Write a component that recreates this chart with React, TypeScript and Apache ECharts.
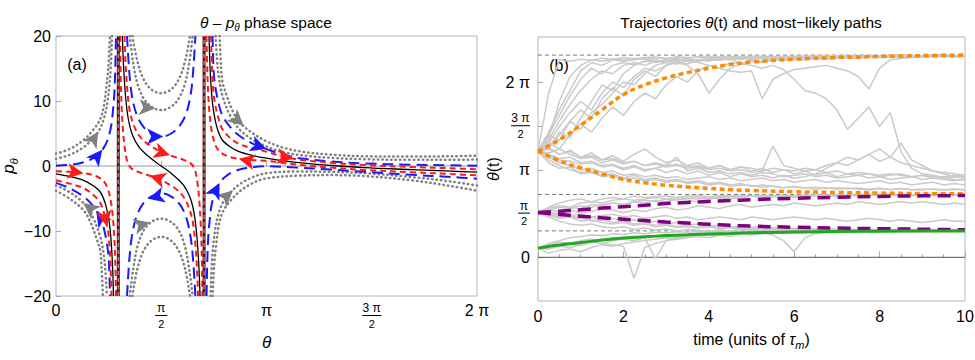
import { useEffect, useRef } from "react";
import * as echarts from "echarts";

const PI = Math.PI;
const TWO_PI = 2 * PI;
const FONT = '"Liberation Sans", Arial, Helvetica, sans-serif';

// ---------- Left panel (a): theta - p_theta phase space ----------
const thetaTickValues = [0, PI / 2, PI, (3 * PI) / 2, 2 * PI];
const thetaTickLabels = ["0", "{n|π}\n{b| }\n{d|2}", "π", "{n3|3 π}\n{b3| }\n{d3|2}", "2 π"];
const separatrixTheta = [0.93, 2.21];

// region left of first separatrix
const grayUpperL1 = [[0, 1.9], [0.2, 2.6], [0.4, 3.9], [0.55, 5.5], [0.65, 7], [0.71, 9], [0.75, 12], [0.78, 15], [0.805, 20]];
const grayUpperL2 = [[0, 1.1], [0.2, 1.7], [0.4, 2.8], [0.55, 4.2], [0.65, 5.6], [0.72, 7.5], [0.77, 10], [0.81, 14], [0.835, 20]];
const blueUpperL = [[0, 0.05], [0.3, 0.3], [0.5, 0.9], [0.62, 1.7], [0.7, 2.6], [0.77, 4], [0.82, 6], [0.85, 8.5], [0.87, 11], [0.885, 15], [0.895, 20]];
const redOuterL = [[0, -0.8], [0.2, -0.9], [0.41, -1.1], [0.55, -1.4], [0.66, -1.9], [0.73, -2.6], [0.78, -3.7], [0.82, -5.5], [0.85, -8], [0.87, -11], [0.885, -15], [0.896, -20]];
const blackL = [[0, -1.2], [0.2, -1.6], [0.41, -2.2], [0.55, -3], [0.66, -4], [0.73, -5.6], [0.78, -7.8], [0.81, -10], [0.835, -13.5], [0.85, -17], [0.858, -20]];
const redInnerL = [[0, -2.2], [0.2, -2.7], [0.41, -3.4], [0.55, -4.4], [0.66, -5.7], [0.73, -7.8], [0.78, -10.3], [0.8, -12.5], [0.815, -15.5], [0.828, -20]];
const blueLowerL = [[0, -2.6], [0.2, -3.4], [0.41, -4.7], [0.55, -6.1], [0.66, -7.8], [0.73, -10.3], [0.78, -13.4], [0.795, -16], [0.806, -20]];
const grayLowerL1 = [[0, -3.0], [0.2, -4.0], [0.41, -5.7], [0.55, -7.9], [0.66, -10.9], [0.71, -13.5], [0.74, -16.5], [0.76, -20]];
const grayLowerL2 = [[0, -3.8], [0.2, -5.0], [0.41, -6.8], [0.52, -8.8], [0.6, -11], [0.657, -12.9], [0.68, -15.5], [0.7, -20]];

// middle region
const blueUpperM = [[1.06, 20], [1.09, 15], [1.13, 11], [1.2, 8], [1.3, 6.1], [1.42, 5.0], [1.57, 4.5], [1.72, 5.0], [1.84, 6.1], [1.94, 8], [2.01, 11], [2.05, 15], [2.08, 20]];
const grayUpperM1 = [[1.1, 20], [1.15, 16], [1.22, 12.5], [1.32, 10.2], [1.44, 9.0], [1.57, 8.6], [1.7, 9.0], [1.82, 10.2], [1.92, 12.5], [1.99, 16], [2.04, 20]];
const grayUpperM2 = [[1.14, 20], [1.21, 16.3], [1.3, 13.5], [1.42, 11.8], [1.57, 11.2], [1.72, 11.8], [1.84, 13.5], [1.93, 16.3], [2.0, 20]];
const blueLowerM = [[1.06, -20], [1.09, -15], [1.13, -11], [1.2, -7.8], [1.3, -5.8], [1.42, -4.7], [1.57, -4.2], [1.72, -4.7], [1.84, -5.8], [1.94, -7.8], [2.01, -11], [2.05, -15], [2.08, -20]];
const grayLowerM1 = [[1.1, -20], [1.15, -16], [1.22, -12.2], [1.32, -9.7], [1.44, -8.5], [1.57, -8.1], [1.7, -8.5], [1.82, -9.7], [1.92, -12.2], [1.99, -16], [2.04, -20]];
const grayLowerM2 = [[1.14, -20], [1.21, -16], [1.3, -13.2], [1.42, -11.5], [1.57, -10.9], [1.72, -11.5], [1.84, -13.2], [1.93, -16], [2.0, -20]];
const redS1 = [[0.955, 20], [0.965, 14], [0.98, 9], [1.0, 5.5], [1.03, 2.5], [1.07, 0.5], [1.13, -0.4], [1.25, -1.0], [1.4, -1.5], [1.55, -2.1], [1.7, -2.9], [1.82, -3.8], [1.92, -5.0], [1.99, -6.6], [2.04, -8.5], [2.08, -12], [2.105, -16], [2.12, -20]];
const blackS = [[0.99, 20], [1.01, 15], [1.04, 10.5], [1.08, 7.2], [1.14, 4.8], [1.24, 2.9], [1.4, 1.3], [1.57, 0], [1.74, -1.3], [1.9, -2.9], [2.0, -4.8], [2.06, -7.2], [2.1, -10.5], [2.13, -15], [2.15, -20]];
const redS2 = [[1.022, 20], [1.037, 16], [1.062, 12], [1.1, 8.5], [1.15, 6.6], [1.22, 5.0], [1.32, 3.8], [1.44, 2.9], [1.59, 2.1], [1.74, 1.5], [1.89, 1.0], [2.01, 0.4], [2.07, -0.5], [2.11, -2.5], [2.14, -5.5], [2.16, -9], [2.176, -14], [2.186, -20]];

// region right of second separatrix
const redOuterR = [[2.246, 20], [2.257, 15], [2.272, 11], [2.292, 8], [2.322, 5.5], [2.362, 3.7], [2.412, 2.6], [2.482, 1.9], [2.592, 1.4], [2.732, 1.1], [2.942, 0.9], [3.142, 0.8], [3.4, 0.45], [3.7, 0.1], [4.1, -0.25], [4.6, -0.6], [5.3, -0.95], [5.9, -1.25], [6.283, -1.45]];
const blackR = [[2.284, 20], [2.292, 17], [2.307, 13.5], [2.332, 10], [2.362, 7.8], [2.412, 5.6], [2.482, 4], [2.592, 3], [2.732, 2.2], [2.942, 1.6], [3.142, 1.2], [3.4, 0.8], [3.7, 0.45], [4.1, 0.1], [4.6, -0.25], [5.3, -0.55], [5.9, -0.8], [6.283, -0.95]];
const redInnerR = [[2.314, 20], [2.327, 15.5], [2.342, 12.5], [2.362, 10.3], [2.412, 7.8], [2.482, 5.7], [2.592, 4.4], [2.732, 3.4], [2.942, 2.7], [3.142, 2.2], [3.4, 1.4], [3.7, 0.9], [4.1, 0.5], [4.6, 0.15], [5.3, -0.15], [5.9, -0.35], [6.283, -0.5]];
const blueUpperR = [[2.336, 20], [2.347, 16], [2.362, 13.4], [2.412, 10.3], [2.482, 7.8], [2.592, 6.1], [2.732, 4.7], [2.942, 3.4], [3.142, 2.6], [3.4, 1.7], [3.7, 1.1], [4.1, 0.7], [4.6, 0.4], [5.3, 0.2], [5.9, 0.1], [6.283, 0.05]];
const grayUpperR1 = [[2.382, 20], [2.402, 16.5], [2.432, 13.5], [2.482, 10.9], [2.592, 7.9], [2.732, 5.7], [2.942, 4.0], [3.142, 3.0], [3.4, 2.1], [3.7, 1.6], [4.1, 1.25], [4.6, 1.05], [5.3, 0.95], [5.9, 0.95], [6.283, 1.0]];
const grayUpperR2 = [[2.442, 20], [2.462, 15.5], [2.485, 12.9], [2.542, 11], [2.622, 8.8], [2.732, 6.8], [2.942, 5.0], [3.142, 3.8], [3.4, 2.8], [3.7, 2.15], [4.1, 1.75], [4.6, 1.5], [5.3, 1.45], [5.9, 1.5], [6.283, 1.6]];
const blueLowerR = [[2.247, -20], [2.257, -15], [2.272, -11], [2.292, -8.5], [2.322, -6], [2.372, -4], [2.442, -2.6], [2.522, -1.7], [2.642, -0.9], [2.842, -0.3], [3.142, -0.05], [3.6, -0.25], [4.1, -0.55], [4.6, -0.9], [5.3, -1.35], [5.9, -1.7], [6.283, -1.95]];
const grayLowerR1 = [[2.307, -20], [2.332, -14], [2.372, -10], [2.422, -7.5], [2.492, -5.6], [2.592, -4.2], [2.742, -2.8], [2.942, -1.7], [3.142, -1.1], [3.6, -0.85], [4.1, -0.9], [4.6, -1.1], [5.3, -1.7], [5.9, -2.4], [6.283, -3.0]];
const grayLowerR2 = [[2.337, -20], [2.362, -15], [2.392, -12], [2.432, -9], [2.492, -7], [2.592, -5.5], [2.742, -3.9], [2.942, -2.6], [3.142, -1.9], [3.6, -1.5], [4.1, -1.4], [4.6, -1.55], [5.3, -2.2], [5.9, -3.1], [6.283, -3.8]];

const grayCurves = [grayUpperL1, grayUpperL2, grayLowerL1, grayLowerL2, grayUpperM1, grayUpperM2, grayLowerM1, grayLowerM2, grayUpperR1, grayUpperR2, grayLowerR1, grayLowerR2];
const blueCurves = [blueUpperL, blueLowerL, blueUpperM, blueLowerM, blueUpperR, blueLowerR];
const redCurves = [redOuterL, redInnerL, redS1, redS2, redOuterR, redInnerR];
const blackCurves = [blackL, blackS, blackR];

// flow arrows: [theta, p, direction in degrees]
const arrowsGray = [[0.63, 5.3, 58], [1.48, 8.85, -5], [2.8, 6.2, -42], [0.41, -5.7, 142], [1.4, -8.7, 15], [2.64, -3.75, 42]];
const arrowsBlue = [[0.69, 2.5, 52], [1.6, 4.52, 0], [3.14, 2.6, -20], [0.6, -6.9, 124], [1.38, -5.05, 195], [2.44, -2.62, 63]];
const arrowsRed = [[0.41, -1.1, -8], [1.7, 1.66, -18], [1.4, -1.5, 162], [2.73, 1.1, 168], [3.54, 1.15, -9], [0.76, -9.3, -78]];

// ---------- Right panel (b): trajectories ----------
const timeStep = 0.25;
const fixedLevels = [0.95, 2.26, 7.27];
const trajA1 = [3.82, 5.9, 7.1, 7.05, 7.12, 7.08, 7.16, 7.12, 7.18, 7.14, 7.18, 7.2, 7.15, 7.21, 7.18, 7.2, 7.22, 7.18, 7.22, 7.2, 7.22, 7.24, 7.2, 7.23, 7.21, 7.24, 7.22, 7.25, 7.23, 7.24, 7.22, 7.25, 7.23, 7.24, 7.25, 7.23, 7.25, 7.24, 7.26, 7.24, 7.25];
const trajA2 = [3.82, 4.4, 5.1, 5.8, 6.4, 6.8, 6.6, 6.9, 7.0, 6.92, 7.05, 7.1, 7.02, 7.08, 7.12, 7.06, 7.14, 7.1, 7.16, 7.12, 7.18, 7.15, 7.2, 7.17, 7.2, 7.22, 7.18, 7.22, 7.2, 7.23, 7.21, 7.24, 7.22, 7.24, 7.23, 7.25, 7.23, 7.25, 7.24, 7.25, 7.25];
const trajA3 = [3.82, 4.1, 4.7, 5.2, 5.6, 5.3, 5.9, 6.3, 6.1, 6.5, 6.8, 6.7, 6.9, 7.0, 6.9, 6.6, 5.9, 6.4, 6.8, 6.95, 7.05, 7.0, 7.1, 7.08, 7.12, 7.1, 7.15, 7.12, 7.16, 7.18, 7.15, 7.2, 7.18, 7.2, 7.22, 7.2, 7.22, 7.21, 7.23, 7.22, 7.24];
const trajA4 = [3.82, 4.5, 5.3, 6.0, 6.7, 7.0, 6.9, 7.1, 7.05, 7.1, 7.15, 7.02, 7.1, 7.15, 7.05, 7.1, 7.12, 7.08, 7.15, 6.95, 6.9, 6.8, 6.9, 6.75, 6.4, 6.0, 5.9, 5.7, 5.3, 4.6, 5.0, 5.4, 4.7, 5.2, 3.8, 3.2, 3.0, 2.95, 2.85, 2.8, 2.78];
const trajA5 = [3.82, 4.2, 4.9, 5.5, 6.0, 6.4, 6.7, 6.6, 6.9, 7.0, 6.9, 7.05, 7.0, 7.1, 7.05, 7.0, 6.9, 6.8, 6.7, 6.65, 6.7, 5.7, 6.4, 6.6, 6.75, 6.8, 6.85, 6.9, 6.8, 6.7, 6.5, 6.05, 6.8, 7.1, 7.15, 7.18, 7.2, 7.2, 7.22, 7.2, 7.22];
const trajA6 = [3.82, 3.9, 4.5, 4.3, 5.0, 5.6, 6.2, 6.0, 6.6, 6.9, 7.05, 7.0, 7.1, 7.08, 7.12, 7.1, 7.14, 7.12, 7.16, 7.14, 7.18, 7.16, 7.2, 7.18, 7.2, 7.21, 7.19, 7.22, 7.2, 7.22, 7.21, 7.23, 7.22, 7.24, 7.22, 7.24, 7.23, 7.25, 7.24, 7.25, 7.25];
const trajA7 = [3.82, 4.3, 5.6, 6.5, 6.9, 7.1, 7.05, 7.12, 7.1, 7.15, 7.12, 7.17, 7.15, 7.18, 7.16, 7.2, 7.18, 7.2, 7.21, 7.19, 7.22, 7.2, 7.22, 7.21, 7.23, 7.22, 7.24, 7.22, 7.24, 7.23, 7.25, 7.24, 7.25, 7.24, 7.25, 7.25, 7.24, 7.26, 7.25, 7.25, 7.26];
const trajA8 = [3.82, 4.0, 4.4, 4.9, 4.6, 5.2, 5.5, 5.9, 6.3, 6.2, 6.6, 6.9, 7.0, 6.95, 7.08, 7.05, 7.1, 7.12, 7.1, 7.15, 7.12, 7.16, 7.14, 7.18, 7.16, 7.19, 7.18, 7.2, 7.19, 7.21, 7.2, 7.22, 7.21, 7.23, 7.22, 7.23, 7.24, 7.23, 7.24, 7.25, 7.24];
const trajA9 = [3.82, 3.6, 3.4, 3.3, 3.15, 3.2, 3.05, 3.1, 2.95, 3.0, 2.9, 2.95, 2.85, 2.9, 2.8, 2.85, 2.9, 2.8, 2.85, 2.75, 2.8, 2.85, 2.75, 2.8, 2.7, 2.75, 2.8, 2.7, 2.75, 2.7, 2.65, 2.7, 2.75, 2.65, 2.7, 2.6, 2.65, 2.7, 2.6, 2.65, 2.6];
const trajA10 = [3.82, 3.7, 3.55, 3.6, 3.4, 3.45, 3.3, 3.35, 3.2, 3.3, 3.15, 3.2, 3.3, 3.6, 3.1, 3.2, 3.05, 3.1, 3.0, 3.05, 2.95, 3.05, 3.0, 2.9, 2.95, 3.0, 2.9, 2.95, 2.85, 2.9, 2.95, 2.85, 2.9, 2.8, 2.85, 2.9, 2.8, 2.85, 2.8, 2.75, 2.8];
const trajA11 = [3.82, 3.9, 3.7, 3.8, 3.6, 3.65, 3.5, 3.55, 3.4, 3.45, 3.3, 3.35, 3.25, 3.3, 3.2, 3.25, 3.15, 3.2, 3.1, 3.15, 3.05, 3.1, 4.0, 3.3, 3.2, 3.1, 3.15, 3.05, 3.1, 3.0, 3.05, 3.0, 2.95, 3.0, 2.95, 2.9, 2.95, 2.9, 2.85, 2.9, 2.85];
const trajA12 = [3.82, 3.5, 3.3, 3.15, 3.05, 3.1, 2.95, 3.0, 2.85, 2.95, 2.8, 2.85, 2.75, 2.8, 2.7, 2.75, 2.65, 2.7, 2.6, 2.65, 2.55, 2.6, 2.55, 2.5, 2.55, 2.5, 2.45, 2.5, 2.45, 2.5, 2.45, 2.42, 2.47, 2.43, 2.47, 2.44, 2.42, 2.46, 2.43, 2.45, 2.43];
const trajA13 = [3.82, 3.75, 3.9, 3.7, 3.55, 3.6, 3.4, 3.5, 3.35, 3.45, 3.3, 3.4, 3.3, 3.35, 3.25, 3.3, 3.2, 3.3, 3.15, 3.25, 3.2, 3.1, 3.2, 3.15, 3.1, 3.2, 3.15, 3.3, 3.4, 3.6, 3.5, 3.7, 3.9, 3.6, 3.4, 3.3, 3.2, 3.1, 3.05, 3.0, 2.95];
const trajA14 = [3.82, 3.65, 3.5, 3.45, 3.35, 3.4, 3.25, 3.3, 3.15, 3.25, 3.1, 3.2, 3.05, 3.15, 3.0, 3.1, 2.95, 3.05, 2.9, 3.0, 2.9, 2.95, 2.85, 2.95, 2.85, 2.9, 3.0, 3.2, 3.4, 3.3, 3.5, 3.7, 3.45, 3.6, 4.1, 3.5, 3.3, 3.1, 3.0, 2.9, 2.85];
const trajA15 = [3.82, 4.1, 3.9, 4.4, 4.8, 4.5, 5.0, 5.4, 5.1, 5.6, 5.9, 5.7, 6.2, 6.5, 6.3, 6.7, 6.9, 6.8, 7.0, 6.95, 7.1, 7.05, 7.12, 7.1, 7.15, 7.12, 7.18, 7.15, 7.2, 7.17, 7.2, 7.22, 7.2, 7.23, 7.21, 7.24, 7.22, 7.24, 7.23, 7.25, 7.24];
const trajA16 = [3.82, 4.4, 4.2, 4.9, 5.3, 5.0, 5.7, 6.1, 5.8, 6.4, 6.7, 6.5, 6.9, 7.05, 6.95, 7.1, 7.05, 7.15, 7.1, 7.17, 7.14, 7.19, 7.16, 7.2, 7.18, 7.22, 7.19, 7.21, 7.23, 7.2, 7.22, 7.24, 7.21, 7.23, 7.25, 7.22, 7.24, 7.25, 7.23, 7.25, 7.25];
const trajA17 = [3.82, 3.95, 3.7, 3.85, 3.6, 3.75, 3.5, 3.65, 3.45, 3.7, 3.9, 3.6, 3.4, 3.5, 3.3, 3.4, 3.2, 3.3, 3.15, 3.25, 3.1, 3.2, 3.05, 3.15, 3.0, 3.1, 2.95, 3.05, 2.9, 3.0, 2.95, 3.0, 2.9, 2.95, 3.0, 2.9, 2.95, 2.85, 2.9, 2.95, 2.9];
const trajA18 = [3.82, 3.4, 3.2, 3.25, 3.0, 3.05, 2.9, 2.95, 2.8, 2.85, 2.75, 2.8, 2.7, 2.75, 2.65, 2.7, 2.6, 2.65, 2.55, 2.6, 2.58, 2.52, 2.56, 2.5, 2.54, 2.48, 2.52, 2.47, 2.5, 2.46, 2.49, 2.45, 2.48, 2.44, 2.47, 2.43, 2.46, 2.44, 2.42, 2.45, 2.43];
const trajB1 = [1.61, 1.75, 1.85, 1.8, 1.95, 2.0, 1.95, 2.05, 2.1, 2.05, 2.1, 2.15, 2.1, 2.15, 2.12, 2.18, 2.15, 2.2, 2.18, 2.2, 2.22, 2.18, 2.2, 2.22, 2.2, 2.23, 2.21, 2.22, 2.24, 2.22, 2.23, 2.25, 2.23, 2.24, 2.25, 2.23, 2.24, 2.25, 2.24, 2.25, 2.25];
const trajB2 = [1.61, 1.7, 1.65, 1.8, 1.75, 1.9, 1.85, 1.95, 1.9, 2.0, 1.95, 2.05, 2.0, 2.1, 2.05, 2.0, 2.1, 2.15, 2.1, 2.15, 2.2, 2.15, 2.18, 2.2, 2.16, 2.2, 2.22, 2.2, 2.18, 2.22, 2.2, 2.23, 2.21, 2.22, 2.24, 2.22, 2.23, 2.22, 2.24, 2.23, 2.24];
const trajB3 = [1.61, 1.5, 1.4, 1.45, 1.3, 1.35, 1.25, 1.2, 1.25, 1.15, 1.2, 1.1, 1.15, 1.08, 1.1, 1.05, 1.1, 1.02, 1.06, 1.0, 1.04, 0.98, 1.02, 1.0, 0.98, 1.02, 0.97, 1.0, 0.98, 0.96, 1.0, 0.97, 0.99, 0.96, 0.98, 0.97, 0.95, 0.98, 0.96, 0.97, 0.96];
const trajB4 = [1.61, 1.55, 1.45, 1.5, 1.4, 1.3, 1.35, 1.25, 1.3, 1.2, 1.25, 1.15, 1.2, 1.1, 1.15, 1.08, 1.12, 1.05, 1.1, 1.05, 1.0, 1.05, 1.02, 0.98, 1.03, 1.0, 0.97, 1.0, 0.98, 1.02, 0.97, 0.99, 0.96, 0.98, 1.0, 0.97, 0.98, 0.96, 0.98, 0.97, 0.97];
const trajB5 = [1.61, 1.65, 1.55, 1.7, 1.6, 1.65, 1.75, 1.7, 1.6, 1.7, 1.65, 1.75, 1.8, 1.7, 1.75, 1.85, 1.8, 1.75, 1.85, 1.9, 1.8, 1.85, 1.9, 1.85, 1.95, 1.9, 1.85, 1.9, 1.95, 1.9, 2.0, 1.95, 1.9, 1.95, 2.0, 1.95, 2.0, 1.95, 1.9, 1.95, 1.9];
const trajB6 = [1.61, 1.55, 1.6, 1.5, 1.55, 1.45, 1.5, 1.55, 1.45, 1.5, 1.4, 1.45, 1.5, 1.4, 1.45, 1.35, 1.4, 1.45, 1.4, 1.35, 1.45, 1.4, 1.35, 1.4, 1.45, 1.4, 1.35, 1.4, 1.35, 1.3, 1.35, 1.4, 1.35, 1.3, 1.35, 1.3, 1.25, 1.3, 1.35, 1.3, 1.3];
const trajB7 = [1.61, 1.8, 1.95, 2.05, 2.1, 2.0, 2.1, 2.15, 2.1, 2.2, 2.15, 2.18, 2.2, 2.15, 2.2, 2.22, 2.18, 2.21, 2.2, 2.22, 2.2, 2.23, 2.21, 2.22, 2.2, 2.23, 2.22, 2.24, 2.22, 2.23, 2.24, 2.22, 2.24, 2.23, 2.25, 2.24, 2.23, 2.25, 2.24, 2.25, 2.24];
const trajB8 = [1.61, 1.45, 1.3, 1.2, 1.15, 1.2, 1.1, 1.05, 1.1, 1.0, 1.05, 0.98, 1.02, 0.95, 1.0, 0.97, 0.93, 0.98, 0.95, 1.0, 0.96, 0.94, 0.98, 0.95, 0.97, 0.94, 0.96, 0.98, 0.95, 0.97, 0.95, 0.96, 0.94, 0.97, 0.95, 0.96, 0.94, 0.96, 0.95, 0.96, 0.95];
const trajB9 = [1.61, 1.7, 1.8, 1.75, 1.85, 1.8, 1.9, 1.95, 1.9, 2.0, 2.05, 2.0, 2.1, 2.05, 2.12, 2.1, 2.15, 2.12, 2.18, 2.15, 2.2, 2.17, 2.21, 2.19, 2.22, 2.2, 2.23, 2.21, 2.24, 2.22, 2.25, 2.23, 2.24, 2.26, 2.24, 2.25, 2.23, 2.25, 2.24, 2.26, 2.25];
const trajB10 = [1.61, 1.5, 1.55, 1.45, 1.4, 1.45, 1.35, 1.4, 1.3, 1.35, 1.25, 1.3, 1.2, 1.25, 1.15, 1.2, 1.12, 1.15, 1.1, 1.12, 1.08, 1.1, 1.05, 1.08, 1.03, 1.06, 1.02, 1.05, 1.0, 1.03, 0.99, 1.02, 0.98, 1.0, 0.97, 0.99, 0.96, 0.98, 0.97, 0.96, 0.97];
const trajC1 = [0.33, 0.4, 0.45, 0.5, 0.42, 0.55, 0.5, 0.45, 0.4, -0.75, 0.35, 0.5, 0.6, 0.65, 0.7, 0.75, 0.7, 0.8, 0.75, 0.85, 0.8, 0.85, 0.9, 0.85, 0.88, 0.9, 0.87, 0.9, 0.92, 0.9, 0.93, 0.91, 0.92, 0.94, 0.92, 0.93, 0.94, 0.93, 0.95, 0.94, 0.94];
const trajC2 = [0.33, 0.45, 0.55, 0.5, 0.6, 0.65, 0.6, 0.7, 0.68, 0.75, 0.7, -0.05, 0.6, 0.72, 0.78, 0.75, 0.82, 0.8, 0.85, 0.82, 0.88, 0.85, 0.9, 0.87, 0.9, 0.88, 0.92, 0.9, 0.93, 0.91, 0.93, 0.92, 0.94, 0.93, 0.94, 0.93, 0.95, 0.94, 0.95, 0.94, 0.95];
const trajC3 = [0.33, 0.5, 0.6, 0.7, 0.75, 0.8, 0.78, 0.85, 0.82, 0.88, 0.85, 0.9, 0.88, 0.92, 0.9, 0.93, 0.9, 0.94, 0.92, 0.9, 0.93, 0.88, 0.8, 0.6, 0.2, 0.7, 0.85, 0.9, 0.92, 0.9, 0.93, 0.92, 0.94, 0.93, 0.95, 0.93, 0.94, 0.95, 0.94, 0.95, 0.95];
const trajC4 = [0.33, 0.3, 0.4, 0.35, 0.45, 0.55, 0.5, 0.6, 0.65, 0.6, 0.7, 0.75, 0.7, 0.78, 0.8, 0.85, 0.82, 0.88, 0.85, 0.9, 0.88, 0.92, 0.9, 0.94, 0.92, 0.95, 0.93, 0.96, 0.94, 0.95, 0.97, 0.95, 0.96, 0.94, 0.96, 0.95, 0.97, 0.95, 0.96, 0.95, 0.96];
const trajC5 = [0.33, 0.15, 0.25, 0.3, 0.2, 0.35, 0.45, 0.4, 0.5, 0.55, 0.6, 0.65, 0.7, 0.68, 0.75, 0.8, 0.78, 0.85, 0.88, 0.85, 0.9, 0.92, 0.9, 0.94, 0.92, 0.95, 0.93, 0.96, 0.94, 0.97, 0.95, 0.96, 0.98, 0.96, 0.97, 0.95, 0.97, 0.96, 0.98, 0.96, 0.97];
const trajectories = [trajA1, trajA2, trajA3, trajA4, trajA5, trajA6, trajA7, trajA8, trajA9, trajA10, trajA11, trajA12, trajA13, trajA14, trajA15, trajA16, trajA17, trajA18, trajB1, trajB2, trajB3, trajB4, trajB5, trajB6, trajB7, trajB8, trajB9, trajB10, trajC1, trajC2, trajC3, trajC4, trajC5];

// most-likely paths
const pathTime = [0, 0.5, 1, 1.5, 2, 2.5, 3, 3.5, 4, 4.5, 5, 6, 7, 8, 9, 10];
const orangeUp = [3.82, 4.22, 4.75, 5.3, 5.85, 6.2, 6.45, 6.64, 6.8, 6.93, 7.02, 7.12, 7.18, 7.22, 7.25, 7.27];
const orangeDown = [3.82, 3.47, 3.22, 3.0, 2.8, 2.68, 2.59, 2.53, 2.48, 2.43, 2.4, 2.36, 2.33, 2.31, 2.29, 2.28];
const purpleUp = [1.61, 1.66, 1.71, 1.77, 1.82, 1.87, 1.93, 1.97, 2.01, 2.04, 2.07, 2.12, 2.16, 2.19, 2.21, 2.22];
const purpleDown = [1.61, 1.54, 1.48, 1.42, 1.37, 1.32, 1.27, 1.23, 1.19, 1.15, 1.12, 1.08, 1.05, 1.03, 1.01, 0.99];
const greenPath = [0.33, 0.44, 0.53, 0.62, 0.69, 0.74, 0.78, 0.81, 0.84, 0.86, 0.88, 0.91, 0.93, 0.94, 0.95, 0.95];

const thetaTTickValues = [0, PI / 2, PI, (3 * PI) / 2, 2 * PI];
const thetaTTickLabels = ["0", "{n|π}\n{b| }\n{d|2}", "π", "{n3|3 π}\n{b3| }\n{d3|2}", "2 π"];

const fracRich = {
  n: { fontSize: 12, width: 12, align: "center", lineHeight: 12, fontFamily: FONT, color: "#000" },
  b: { width: 12, height: 1, lineHeight: 3, fontSize: 1, backgroundColor: "#000" },
  d: { fontSize: 11, width: 12, align: "center", lineHeight: 13, fontFamily: FONT, color: "#000" },
  n3: { fontSize: 12, width: 19, align: "center", lineHeight: 12, fontFamily: FONT, color: "#000" },
  b3: { width: 19, height: 1, lineHeight: 3, fontSize: 1, backgroundColor: "#000" },
  d3: { fontSize: 11, width: 19, align: "center", lineHeight: 13, fontFamily: FONT, color: "#000" },
};

const nameRich = {
  i: { fontStyle: "italic", fontSize: 16, fontFamily: FONT, color: "#000" },
  s: { fontStyle: "italic", fontSize: 11, fontFamily: FONT, color: "#000", verticalAlign: "bottom", lineHeight: 22 },
};

const pickLabel = (values: number[], labels: string[]) => (v: number) => {
  const i = values.findIndex((t) => Math.abs(t - v) < 1e-6);
  return i >= 0 ? labels[i] : "";
};

function buildOption() {
  const series: any[] = [];
  const curve = (data: number[][], color: string, type: any, width: number, z: number, cap = "butt") => ({
    type: "line",
    xAxisIndex: 0,
    yAxisIndex: 0,
    data,
    showSymbol: false,
    symbol: "none",
    smooth: 0.35,
    silent: true,
    z,
    lineStyle: { color, type, width, cap },
  });
  series.push({
    type: "line", xAxisIndex: 0, yAxisIndex: 0, data: [[0, 0], [TWO_PI, 0]],
    showSymbol: false, symbol: "none", silent: true, z: 1,
    lineStyle: { color: "#9a9a9a", width: 1 },
  });
  grayCurves.forEach((c) => series.push(curve(c, "#808080", [0.5, 4], 2.5, 3, "round")));
  blueCurves.forEach((c) => series.push(curve(c, "#1a1aff", [11, 6], 2, 4)));
  redCurves.forEach((c) => series.push(curve(c, "#ff1a1a", [6, 4], 2, 4)));
  blackCurves.forEach((c) => series.push(curve(c, "#000000", "solid", 1.3, 4)));
  separatrixTheta.forEach((th) => {
    series.push({
      type: "line", xAxisIndex: 0, yAxisIndex: 0, data: [[th, -20], [th, 20]],
      showSymbol: false, symbol: "none", silent: true, z: 6,
      lineStyle: { color: "#6b0a0a", width: 3 },
    });
    series.push({
      type: "line", xAxisIndex: 0, yAxisIndex: 0, data: [[th, -20], [th, 20]],
      showSymbol: false, symbol: "none", silent: true, z: 7,
      lineStyle: { color: "#a0a0a0", width: 1.2, type: [4, 3] },
    });
  });
  const arrowSeries = (data: number[][], color: string) => ({
    type: "scatter", xAxisIndex: 0, yAxisIndex: 0, data, symbol: "arrow",
    symbolSize: [12, 16], symbolRotate: (v: number[]) => v[2] - 90,
    itemStyle: { color, opacity: 1 }, silent: true, z: 9,
  });
  series.push(arrowSeries(arrowsGray, "#808080"));
  series.push(arrowSeries(arrowsBlue, "#1a1aff"));
  series.push(arrowSeries(arrowsRed, "#ff1a1a"));

  // right panel
  const rLine = (data: number[][], lineStyle: any, z: number, smooth: any = false) => ({
    type: "line", xAxisIndex: 1, yAxisIndex: 1, data, showSymbol: false, symbol: "none",
    silent: true, z, smooth, lineStyle,
  });
  series.push(rLine([[0, 0], [10, 0]], { color: "#555", width: 1 }, 1));
  fixedLevels.forEach((v) => series.push(rLine([[0, v], [10, v]], { color: "#777", width: 1, type: [4, 3] }, 1)));
  trajectories.forEach((tr) =>
    series.push(rLine(tr.map((v, i) => [i * timeStep, v]), { color: "#cacaca", width: 1.5 }, 2))
  );
  const pathData = (vals: number[]) => vals.map((v, i) => [pathTime[i], v]);
  series.push(rLine(pathData(orangeUp), { color: "#ff8a00", width: 3.5, type: [5, 3.5] }, 10, 0.4));
  series.push(rLine(pathData(orangeDown), { color: "#ff8a00", width: 3.5, type: [5, 3.5] }, 10, 0.4));
  series.push(rLine(pathData(purpleUp), { color: "#800080", width: 3.5, type: [13, 7] }, 10, 0.4));
  series.push(rLine(pathData(purpleDown), { color: "#800080", width: 3.5, type: [13, 7] }, 10, 0.4));
  series.push(rLine(pathData(greenPath), { color: "#20a820", width: 3 }, 10, 0.4));

  const tickStyle = { color: "#aaaaaa", width: 1 };
  const labelBase = { color: "#000", fontSize: 16, fontFamily: FONT };

  return {
    animation: false,
    backgroundColor: "#ffffff",
    grid: [
      { left: 56, top: 36, width: 421, height: 260, show: true, borderColor: "#b4b4b4", borderWidth: 1, backgroundColor: "transparent", outerBoundsMode: "none" },
      { left: 538, top: 37, width: 427, height: 264, show: true, borderColor: "#b4b4b4", borderWidth: 1, backgroundColor: "transparent", outerBoundsMode: "none" },
    ],
    xAxis: [
      {
        gridIndex: 0, type: "value", min: 0, max: TWO_PI,
        axisLine: { show: false }, splitLine: { show: false },
        axisTick: { show: true, inside: true, length: 5, lineStyle: tickStyle, customValues: thetaTickValues },
        axisLabel: { ...labelBase, margin: 6, customValues: thetaTickValues, formatter: pickLabel(thetaTickValues, thetaTickLabels), rich: fracRich, showMinLabel: true, showMaxLabel: true },
        name: "{i|θ}", nameLocation: "middle", nameGap: 32,
        nameTextStyle: { fontSize: 17, fontFamily: FONT, color: "#000", rich: { i: { ...nameRich.i, fontSize: 17 } } },
      },
      {
        gridIndex: 1, type: "value", min: 0, max: 10, interval: 2,
        axisLine: { show: false }, splitLine: { show: false },
        axisTick: { show: true, inside: true, length: 6, lineStyle: tickStyle },
        minorTick: { show: true, splitNumber: 4, length: 3, lineStyle: tickStyle },
        axisLabel: { ...labelBase, margin: 7, showMinLabel: true, showMaxLabel: true },
        name: "time (units of {i|τ}{s|m})", nameLocation: "middle", nameGap: 27,
        nameTextStyle: { fontSize: 16, fontFamily: FONT, color: "#000", rich: { i: { ...nameRich.i, fontSize: 16 }, s: nameRich.s } },
      },
    ],
    yAxis: [
      {
        gridIndex: 0, type: "value", min: -20, max: 20, interval: 10,
        axisLine: { show: false }, splitLine: { show: false },
        axisTick: { show: true, inside: true, length: 5, lineStyle: tickStyle },
        axisLabel: { ...labelBase, margin: 5, formatter: (v: number) => (v < 0 ? "−" + Math.abs(v) : String(v)) },
        name: "{i|p}{s|θ}", nameLocation: "middle", nameGap: 31, nameRotate: 90,
        nameTextStyle: { fontSize: 17, fontFamily: FONT, color: "#000", rich: { i: { ...nameRich.i, fontSize: 17 }, s: nameRich.s } },
      },
      {
        gridIndex: 1, type: "value", min: -PI / 2, max: 7.92,
        axisLine: { show: false }, splitLine: { show: false },
        axisTick: { show: true, inside: true, length: 5, lineStyle: tickStyle, customValues: thetaTTickValues },
        axisLabel: { ...labelBase, margin: 8, customValues: thetaTTickValues, formatter: pickLabel(thetaTTickValues, thetaTTickLabels), rich: fracRich },
        name: "{i|θ}(t)", nameLocation: "middle", nameGap: 34, nameRotate: 90,
        nameTextStyle: { fontSize: 16, fontFamily: FONT, color: "#000", rich: { i: { ...nameRich.i, fontSize: 16 } } },
      },
    ],
    graphic: [
      {
        type: "text", x: 266, y: 22, silent: true,
        style: {
          text: "{i|θ} – {i|p}{s|θ} phase space", fill: "#000", fontSize: 15.5, fontFamily: FONT,
          align: "center", verticalAlign: "middle",
          rich: { i: { fontStyle: "italic", fontSize: 15.5, fontFamily: FONT }, s: { fontStyle: "italic", fontSize: 10, fontFamily: FONT, verticalAlign: "bottom", lineHeight: 21 } },
        },
      },
      {
        type: "text", x: 751, y: 22, silent: true,
        style: {
          text: "Trajectories {i|θ}(t) and most−likely paths", fill: "#000", fontSize: 15.5, fontFamily: FONT,
          align: "center", verticalAlign: "middle",
          rich: { i: { fontStyle: "italic", fontSize: 15.5, fontFamily: FONT } },
        },
      },
      { type: "text", x: 77, y: 64, silent: true, style: { text: "(a)", fill: "#000", fontSize: 16, fontFamily: FONT, align: "center", verticalAlign: "middle" } },
      { type: "text", x: 559, y: 65, silent: true, style: { text: "(b)", fill: "#000", fontSize: 16, fontFamily: FONT, align: "center", verticalAlign: "middle" } },
    ],
    series,
  };
}

export default function App() {
  const ref = useRef<HTMLDivElement>(null);
  useEffect(() => {
    if (!ref.current) return;
    const chart = echarts.init(ref.current, null, { renderer: "svg" });
    chart.setOption(buildOption() as any);
    return () => chart.dispose();
  }, []);
  return (
    <div
      ref={ref}
      style={{ position: "fixed", left: 0, top: 0, width: 975, height: 360, background: "#fff" }}
    />
  );
}
